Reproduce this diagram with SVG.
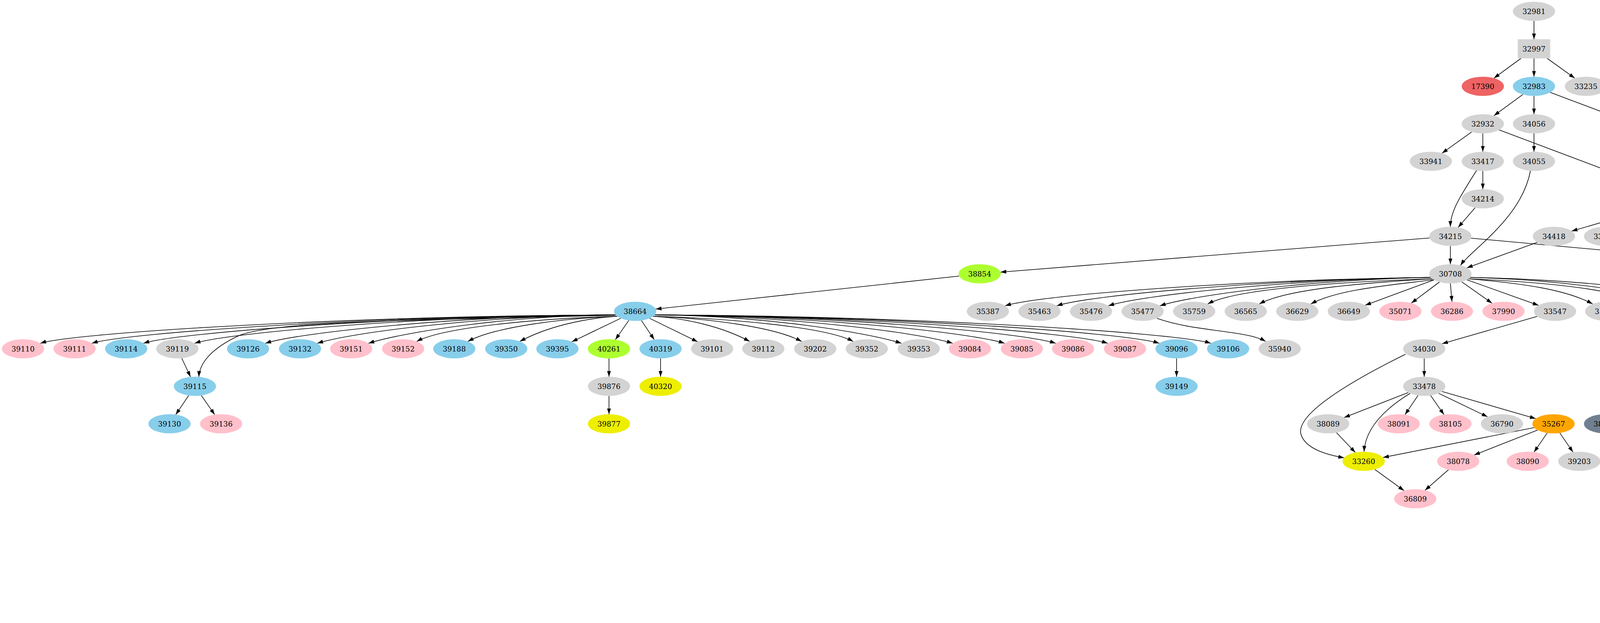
<svg xmlns="http://www.w3.org/2000/svg" width="7259" height="1595" viewBox="0 0 7259 1595">
<style>
.g{fill:#d3d3d3}.b{fill:#87ceeb}.p{fill:#ffc0cb}.l{fill:#adff2f}.y{fill:#eeee00}.r{fill:#ee6363}.s{fill:#708090}.w{fill:#a52a2a}.o{fill:#ffa500}
#edges path{fill:none;stroke:#000;stroke-width:1.6;marker-end:url(#a)}
text{font-family:"DejaVu Serif","Liberation Serif",serif;font-size:18.5px;text-anchor:middle;fill:#000}
</style>
<defs>
<marker id="a" markerUnits="userSpaceOnUse" markerWidth="16" markerHeight="12" refX="15" refY="6" orient="auto"><path d="M0,1 L15,6 L0,11 z" fill="#000"/></marker>
</defs>
<rect width="7259" height="1595" fill="#fff"/>
<g id="edges">
<path d="M3927,53.5 L3927,100.5"/>
<path d="M3893.6,149.5 L3824.4,200.2"/>
<path d="M3927,149.5 L3927,196.5"/>
<path d="M3960.9,149.5 L4031.4,200.2"/>
<path d="M3898.6,241.8 L3824.4,296.2"/>
<path d="M3927,245.5 L3927,292.5"/>
<path d="M3968.6,236.6 L4397.4,397.4"/>
<path d="M3767.4,337.8 L3691.6,392.2"/>
<path d="M3796,341.5 L3796,388.5"/>
<path d="M3837.6,332.6 L4265.4,493.4"/>
<path d="M3927,341.5 L3927,388.5"/>
<path d="M4410.4,433.8 L4335.6,488.2"/>
<path d="M4439,437.5 L4439,484.5"/>
<path d="M4467.6,433.8 L4542.4,488.2"/>
<path d="M4488.6,422.7 L4882.4,499.3"/>
<path d="M3796,437.5 L3796,484.5"/>
<path d="M3780,436.5 C3740,500 3713,540 3713,580.5"/>
<path d="M3776.3,531.8 L3732.7,582.2"/>
<path d="M3918,437 C3895,560 3765,640 3739,679.5"/>
<path d="M4261.6,522.3 L4023.4,591.7"/>
<path d="M4270.1,526.9 L4145.9,587.1"/>
<path d="M4290.7,532.4 L4256.3,581.6"/>
<path d="M4323.1,532.4 L4356.9,581.6"/>
<path d="M4343.9,526.9 L4469.1,587.1"/>
<path d="M4354.2,520.9 L4639.8,593.1"/>
<path d="M4355,521 C4520,570 4669,644.7 4738.3,682.2"/>
<path d="M3659.8,609.2 L2561.2,696.8"/>
<path d="M3713,629.5 L3713,676.5"/>
<path d="M3766,609.8 L4720,696.2"/>
<path d="M3935.9,620.3 L3755.1,685.7"/>
<path d="M4891.1,525 L4727.9,589"/>
<path d="M4916,532 C4830,590 4776,620 4773,676.5"/>
<path d="M4916.1,532.4 L4882.9,581.6"/>
<path d="M4948.4,532.3 L4983.6,581.7"/>
<path d="M4968.9,526.9 L5094.1,587.1"/>
<path d="M4980.3,520 L5304.7,594"/>
<path d="M4984.1,515.5 L5647.9,598.5"/>
<path d="M5114.9,628.4 L5081.1,677.6"/>
<path d="M5147.1,628.4 L5179.9,677.6"/>
<path d="M5373.1,627.7 L5417.9,678.3"/>
<path d="M5671.6,625.8 L5597.4,680.2"/>
<path d="M5700,629.5 L5700,676.5"/>
<path d="M5728.6,625.8 L5804.4,680.2"/>
<path d="M5742.1,620.3 L5922.9,685.7"/>
<path d="M2455.5,706.7 L1678.5,791.3"/>
<path d="M3663,710.3 C3180,716 2661.7,754.8 2573.2,782.9"/>
<path d="M3663,710.3 C3240,716 2793.7,754.8 2705.2,782.9"/>
<path d="M3663,710.3 C3299,716 2925.7,754.8 2837.2,782.9"/>
<path d="M3663,710.3 C3358,716 3057.7,754.8 2969.2,782.9"/>
<path d="M3667,713.8 C3418,722 3161,740.7 3091.7,778.2"/>
<path d="M3667,713.8 C3480,725 3293,740.7 3223.7,778.2"/>
<path d="M3672,716 C3560,730 3425,740.7 3355.7,778.2"/>
<path d="M3671.1,716.5 L3494.9,781.5"/>
<path d="M3685,722 L3613,776"/>
<path d="M3713,725.5 L3717,772.5"/>
<path d="M3742.2,721.6 L3819.8,776.4"/>
<path d="M3755.3,716.2 L3938.7,781.8"/>
<path d="M3759,713.8 C3893,725 4008,740.7 4077.3,778.2"/>
<path d="M3759,713.8 C3953,722 4141,740.7 4210.3,778.2"/>
<path d="M3763,710.3 C4013,716 4245.3,754.8 4333.8,782.9"/>
<path d="M3763,710.3 C4071,716 4376.3,754.8 4464.8,782.9"/>
<path d="M2962,815 C3060,850 3190,845 3240,874"/>
<path d="M3935.3,810.1 L3691.7,879.9"/>
<path d="M3646,917.5 L3646,964.5"/>
<path d="M3598,907 C3450,980 3320,1060 3330,1110 C3340,1150 3400,1165 3441,1172"/>
<path d="M3605.1,1005 L3440.9,1069"/>
<path d="M3630.1,1012.4 L3596.9,1061.6"/>
<path d="M3662.3,1012.4 L3696.7,1061.6"/>
<path d="M3682.9,1006.9 L3808.1,1067.1"/>
<path d="M3691.5,1002.2 L3931.5,1071.8"/>
<path d="M3610,1007 C3540,1050 3495,1100 3492,1156.5"/>
<path d="M3421.3,1107.5 L3469.7,1158.5"/>
<path d="M3927.5,1094.8 L3540.5,1171.2"/>
<path d="M3936.2,1101.1 L3773.8,1164.9"/>
<path d="M3960.9,1108.4 L3927.1,1157.6"/>
<path d="M3993.1,1108.4 L4026.9,1157.6"/>
<path d="M3519.6,1201.8 L3594.4,1256.2"/>
<path d="M3708.1,1202.7 L3647.9,1255.3"/>
<path d="M1576,806.3 C921,808 191.7,850.8 103.2,878.9"/>
<path d="M1576,806.3 C980,808 323.7,850.8 235.2,878.9"/>
<path d="M1576,806.3 C1040,808 455.7,850.8 367.2,878.9"/>
<path d="M1576,806.3 C1099,808 586.7,850.8 498.2,878.9"/>
<path d="M1576,806.3 C1180,808 767.7,850.8 679.2,878.9"/>
<path d="M1576,806.3 C1240,808 900.7,850.8 812.2,878.9"/>
<path d="M1576,806.3 C1299,808 1031.7,850.8 943.2,878.9"/>
<path d="M1580,809.8 C1388,815 1136,836.7 1066.7,874.2"/>
<path d="M1580,809.8 C1441,815 1267,836.7 1197.7,874.2"/>
<path d="M1580,809.8 C1494,815 1400,836.7 1330.7,874.2"/>
<path d="M1589.1,814.9 L1463.9,875.1"/>
<path d="M1609.7,820.4 L1575.3,869.6"/>
<path d="M1641.9,820.4 L1674.9,869.6"/>
<path d="M1662.9,814.9 L1786.1,875.1"/>
<path d="M1672,809.8 C1757,815 1850,836.7 1919.3,874.2"/>
<path d="M1672,809.8 C1810,815 1983,836.7 2052.3,874.2"/>
<path d="M1672,809.8 C1863,815 2115,836.7 2184.3,874.2"/>
<path d="M1676,806.3 C1953,808 2219.3,850.8 2307.8,878.9"/>
<path d="M1676,806.3 C2012,808 2350.3,850.8 2438.8,878.9"/>
<path d="M1676,806.3 C2072,808 2483.3,850.8 2571.8,878.9"/>
<path d="M1676,806.3 C2130,808 2614.3,850.8 2702.8,878.9"/>
<path d="M1676,806.3 C2190,808 2747.3,850.8 2835.8,878.9"/>
<path d="M1676,806.3 C2250,808 2879.3,850.8 2967.8,878.9"/>
<path d="M1676,806.3 C2309,808 3011.3,850.8 3099.8,878.9"/>
<path d="M1576,807 C1100,820 700,820 610,860 C540,893 511,930 509,964.9"/>
<path d="M465.2,917 L487.8,965"/>
<path d="M483.1,1012.4 L449.9,1061.6"/>
<path d="M515.3,1012.4 L549.7,1061.6"/>
<path d="M1559,917.5 L1559,964.5"/>
<path d="M1559,1013.5 L1559,1060.5"/>
<path d="M1691,917.5 L1691,964.5"/>
<path d="M3012,917.5 L3012,964.5"/>
<path d="M4744.6,721.8 L4670.4,776.2"/>
<path d="M4773,725.5 L4773,772.5"/>
<path d="M4801.4,721.8 L4875.6,776.2"/>
<path d="M4815.1,716.3 L4993.9,781.7"/>
<path d="M4747.9,818.7 L4687.1,871.3"/>
<path d="M4778.6,821.4 L4789.4,868.6"/>
<path d="M4730,815 C4630,870 4590,900 4591,964.5"/>
<path d="M4646.1,916.4 L4612.9,965.6"/>
<path d="M4879.3,818.8 L4819.7,871.2"/>
<path d="M4901.6,821.5 L4887.4,964.5"/>
<path d="M4921.4,820.2 L4958.6,869.8"/>
<path d="M4941.4,814.7 L5069.6,875.3"/>
<path d="M4784.5,917.1 L4763.5,964.9"/>
<path d="M4816.1,915.5 L4863.9,966.5"/>
<path d="M5398.7,717.8 L5253.3,780.2"/>
<path d="M5416.5,723.5 L5367.5,774.5"/>
<path d="M5474.2,719.2 L5592.8,778.8"/>
<path d="M5449.1,725 L5515.9,965"/>
<path d="M5436,725.5 C5430,900 5250,990 5030,1020 C4930,1035 4860,1050 4806,1067.3"/>
<path d="M5488,711 C5560,745 5700,745 5800,745 C6400,750 6900,790 7100,826 C7190,850 7203,900 7203,960 L7203,1040 C7203,1100 7150,1130 6950,1155 C6750,1170 6600,1176 6541,1177.5"/>
<path d="M5488,709 C5560,742 5700,742 5800,742 C6300,746 6700,742 6991,776 C7100,786 7200,800 7230,850 C7252,890 7252,950 7252,1000 L7252,1199 C7252,1240 7200,1290 7027,1323 C6900,1350 6700,1365 6571,1370"/>
<path d="M5220.4,821.4 L5232.6,868.6"/>
<path d="M5633,821.5 L5641,868.5"/>
<path d="M5618.7,914.4 L5553.3,967.6"/>
<path d="M5648.3,917.5 L5654.7,964.5"/>
<path d="M5675.7,913.2 L5760.3,968.8"/>
<path d="M5477,998.3 C4818,1012 4241.7,1042.8 4153.2,1070.9"/>
<path d="M5477,998.3 C4884,1012 4373.7,1042.8 4285.2,1070.9"/>
<path d="M5477,998.3 C4950,1012 4505.7,1042.8 4417.2,1070.9"/>
<path d="M5477,998.3 C5016,1012 4637.7,1042.8 4549.2,1070.9"/>
<path d="M5477,998.3 C5082,1012 4769.7,1042.8 4681.2,1070.9"/>
<path d="M5477,998.3 C5214,1012 5033.7,1042.8 4945.2,1070.9"/>
<path d="M5481,1001.8 C5349,1010 5187,1028.7 5117.7,1066.2"/>
<path d="M5484.9,1004.3 L5306.1,1069.7"/>
<path d="M5498.6,1009.8 L5424.4,1064.2"/>
<path d="M5527,1013.5 L5528,1060.5"/>
<path d="M5555.6,1009.8 L5631.4,1064.2"/>
<path d="M5569.1,1004.3 L5749.9,1069.7"/>
<path d="M5573,1001.8 C5685,1010 5819,1028.7 5888.3,1066.2"/>
<path d="M5573,1001.8 C5739,1010 5952,1028.7 6021.3,1066.2"/>
<path d="M5577,998.3 C5857,1012 6055.3,1042.8 6143.8,1070.9"/>
<path d="M5577,998.3 C5924,1012 6187.3,1042.8 6275.8,1070.9"/>
<path d="M5577,998.3 C5990,1012 6319.3,1042.8 6407.8,1070.9"/>
<path d="M5577,998.3 C6055,1012 6450.3,1042.8 6538.8,1070.9"/>
<path d="M5577,998.3 C6121,1012 6583.3,1042.8 6671.8,1070.9"/>
<path d="M5577,998.3 C6187,1012 6715.3,1042.8 6803.8,1070.9"/>
<path d="M5577,998.3 C6253,1012 6847.3,1042.8 6935.8,1070.9"/>
<path d="M5577,998.3 C6319,1012 6979.3,1042.8 7067.8,1070.9"/>
<path d="M5480,1002 C5400,1015 5290,1010 5240,1030 C5190,1060 5175,1110 5173,1156.5"/>
<path d="M5478,1000 C5300,1020 5120,1010 5060,1040 C4990,1080 4955,1150 4951,1252.5"/>
<path d="M5104.1,1107.5 L5151.9,1158.5"/>
<path d="M5775.4,1108.4 L5740.6,1157.6"/>
<path d="M5807.9,1108.4 L5841.1,1157.6"/>
<path d="M5843.7,1092.1 L6435.3,1173.9"/>
<path d="M5836,1099.2 L6341,1262.8"/>
<path d="M7112,1109.5 L7112,1156.5"/>
<path d="M6463.5,1203.1 L6408.5,1254.9"/>
<path d="M6490.8,1205.4 L6513.2,1348.6"/>
<path d="M6356.6,1297.8 L6282.4,1352.2"/>
<path d="M6385,1301.5 L6385,1348.5"/>
<path d="M6413.6,1297.8 L6488.6,1352.2"/>
<path d="M5133.7,1197.8 L4989.3,1260.2"/>
<path d="M5151.9,1203.5 L5104.1,1254.5"/>
<path d="M5183.3,1205.1 L5203.7,1252.9"/>
<path d="M5207.3,1199.9 L5312.7,1258.1"/>
<path d="M5224,1191 C5350,1230 5410,1270 5415,1348.5"/>
<path d="M4903,1289.1 L4624,1360.9"/>
<path d="M4909.4,1293.2 L4749.6,1356.8"/>
<path d="M4925.5,1298.8 L4866.5,1351.2"/>
<path d="M4955.9,1301.4 L4967.1,1348.6"/>
<path d="M4981.9,1296.8 L5073.1,1353.2"/>
<path d="M4993.5,1291.5 L5193.5,1358.5"/>
<path d="M4999.1,1287.2 L5364.9,1362.8"/>
<path d="M4709,1397.5 L4709,1444.5"/>
<path d="M4709,1493.5 L4709,1540.5"/>
<path d="M4842,1397.5 L4842,1444.5"/>
<path d="M4973,1397.5 L4973,1444.5"/>
</g>
<g id="nodes">
<g id="n32981"><ellipse class="g" cx="3927" cy="29" rx="54" ry="24.5"/><text x="3927" y="35.5">32981</text></g>
<g id="n32997"><rect class="g" x="3885.5" y="100.5" width="83" height="49"/><text x="3927" y="131.5">32997</text></g>
<g id="n17390"><ellipse class="r" cx="3796" cy="221" rx="54" ry="24.5"/><text x="3796" y="227.5">17390</text></g>
<g id="n32983"><ellipse class="b" cx="3927" cy="221" rx="54" ry="24.5"/><text x="3927" y="227.5">32983</text></g>
<g id="n33235"><ellipse class="g" cx="4060" cy="221" rx="54" ry="24.5"/><text x="4060" y="227.5">33235</text></g>
<g id="n32932"><ellipse class="g" cx="3796" cy="317" rx="54" ry="24.5"/><text x="3796" y="323.5">32932</text></g>
<g id="n34056"><ellipse class="g" cx="3927" cy="317" rx="54" ry="24.5"/><text x="3927" y="323.5">34056</text></g>
<g id="n33941"><ellipse class="g" cx="3663" cy="413" rx="54" ry="24.5"/><text x="3663" y="419.5">33941</text></g>
<g id="n33417"><ellipse class="g" cx="3796" cy="413" rx="54" ry="24.5"/><text x="3796" y="419.5">33417</text></g>
<g id="n34055"><ellipse class="g" cx="3927" cy="413" rx="54" ry="24.5"/><text x="3927" y="419.5">34055</text></g>
<g id="n32991"><ellipse class="g" cx="4439" cy="413" rx="54" ry="24.5"/><text x="4439" y="419.5">32991</text></g>
<g id="n34214"><ellipse class="g" cx="3796" cy="509" rx="54" ry="24.5"/><text x="3796" y="515.5">34214</text></g>
<g id="n33169"><ellipse class="g" cx="4307" cy="509" rx="54" ry="24.5"/><text x="4307" y="515.5">33169</text></g>
<g id="n32807"><ellipse class="g" cx="4439" cy="509" rx="54" ry="24.5"/><text x="4439" y="515.5">32807</text></g>
<g id="n33648"><ellipse class="g" cx="4571" cy="509" rx="54" ry="24.5"/><text x="4571" y="515.5">33648</text></g>
<g id="n33066"><ellipse class="g" cx="4932" cy="509" rx="54" ry="24.5"/><text x="4932" y="515.5">33066</text></g>
<g id="n34215"><ellipse class="g" cx="3713" cy="605" rx="54" ry="24.5"/><text x="3713" y="611.5">34215</text></g>
<g id="n34418"><ellipse class="g" cx="3978" cy="605" rx="54" ry="24.5"/><text x="3978" y="611.5">34418</text></g>
<g id="n33606"><ellipse class="g" cx="4109" cy="605" rx="54" ry="24.5"/><text x="4109" y="611.5">33606</text></g>
<g id="n34691"><ellipse class="g" cx="4240" cy="605" rx="54" ry="24.5"/><text x="4240" y="611.5">34691</text></g>
<g id="n34735"><ellipse class="g" cx="4373" cy="605" rx="54" ry="24.5"/><text x="4373" y="611.5">34735</text></g>
<g id="n34417"><ellipse class="w" cx="4506" cy="605" rx="54" ry="24.5"/><text x="4506" y="611.5">34417</text></g>
<g id="n32607"><ellipse class="g" cx="4687" cy="605" rx="54" ry="24.5"/><text x="4687" y="611.5">32607</text></g>
<g id="n33529"><ellipse class="g" cx="4867" cy="605" rx="54" ry="24.5"/><text x="4867" y="611.5">33529</text></g>
<g id="n33705"><ellipse class="g" cx="5000" cy="605" rx="54" ry="24.5"/><text x="5000" y="611.5">33705</text></g>
<g id="n33973"><ellipse class="g" cx="5131" cy="605" rx="54" ry="24.5"/><text x="5131" y="611.5">33973</text></g>
<g id="n37395"><ellipse class="b" cx="5353" cy="605" rx="54" ry="24.5"/><text x="5353" y="611.5">37395</text></g>
<g id="n33483"><ellipse class="g" cx="5700" cy="605" rx="54" ry="24.5"/><text x="5700" y="611.5">33483</text></g>
<g id="n38854"><ellipse class="l" cx="2508" cy="701" rx="54" ry="24.5"/><text x="2508" y="707.5">38854</text></g>
<g id="n30708"><ellipse class="g" cx="3713" cy="701" rx="54" ry="24.5"/><text x="3713" y="707.5">30708</text></g>
<g id="n35919"><ellipse class="g" cx="4773" cy="701" rx="54" ry="24.5"/><text x="4773" y="707.5">35919</text></g>
<g id="n34201"><ellipse class="g" cx="5065" cy="701" rx="54" ry="24.5"/><text x="5065" y="707.5">34201</text></g>
<g id="n34107"><ellipse class="g" cx="5196" cy="701" rx="54" ry="24.5"/><text x="5196" y="707.5">34107</text></g>
<g id="n33484"><ellipse class="b" cx="5438" cy="701" rx="54" ry="24.5"/><text x="5438" y="707.5">33484</text></g>
<g id="n33490"><ellipse class="g" cx="5569" cy="701" rx="54" ry="24.5"/><text x="5569" y="707.5">33490</text></g>
<g id="n33491"><ellipse class="g" cx="5700" cy="701" rx="54" ry="24.5"/><text x="5700" y="707.5">33491</text></g>
<g id="n33507"><ellipse class="s" cx="5833" cy="701" rx="54" ry="24.5"/><text x="5833" y="707.5">33507</text></g>
<g id="n33416"><ellipse class="g" cx="5965" cy="701" rx="54" ry="24.5"/><text x="5965" y="707.5">33416</text></g>
<g id="n38664"><ellipse class="b" cx="1626" cy="797" rx="54" ry="24.5"/><text x="1626" y="803.5">38664</text></g>
<g id="n35387"><ellipse class="g" cx="2529" cy="797" rx="54" ry="24.5"/><text x="2529" y="803.5">35387</text></g>
<g id="n35463"><ellipse class="g" cx="2661" cy="797" rx="54" ry="24.5"/><text x="2661" y="803.5">35463</text></g>
<g id="n35476"><ellipse class="g" cx="2793" cy="797" rx="54" ry="24.5"/><text x="2793" y="803.5">35476</text></g>
<g id="n35477"><ellipse class="g" cx="2925" cy="797" rx="54" ry="24.5"/><text x="2925" y="803.5">35477</text></g>
<g id="n35759"><ellipse class="g" cx="3057" cy="797" rx="54" ry="24.5"/><text x="3057" y="803.5">35759</text></g>
<g id="n36565"><ellipse class="g" cx="3189" cy="797" rx="54" ry="24.5"/><text x="3189" y="803.5">36565</text></g>
<g id="n36629"><ellipse class="g" cx="3321" cy="797" rx="54" ry="24.5"/><text x="3321" y="803.5">36629</text></g>
<g id="n36649"><ellipse class="g" cx="3453" cy="797" rx="54" ry="24.5"/><text x="3453" y="803.5">36649</text></g>
<g id="n35071"><ellipse class="p" cx="3585" cy="797" rx="54" ry="24.5"/><text x="3585" y="803.5">35071</text></g>
<g id="n36286"><ellipse class="p" cx="3717" cy="797" rx="54" ry="24.5"/><text x="3717" y="803.5">36286</text></g>
<g id="n37990"><ellipse class="p" cx="3849" cy="797" rx="54" ry="24.5"/><text x="3849" y="803.5">37990</text></g>
<g id="n33547"><ellipse class="g" cx="3981" cy="797" rx="54" ry="24.5"/><text x="3981" y="803.5">33547</text></g>
<g id="n35201"><ellipse class="g" cx="4112" cy="797" rx="54" ry="24.5"/><text x="4112" y="803.5">35201</text></g>
<g id="n35230"><ellipse class="g" cx="4245" cy="797" rx="54" ry="24.5"/><text x="4245" y="803.5">35230</text></g>
<g id="n35376"><ellipse class="g" cx="4378" cy="797" rx="54" ry="24.5"/><text x="4378" y="803.5">35376</text></g>
<g id="n35377"><ellipse class="g" cx="4509" cy="797" rx="54" ry="24.5"/><text x="4509" y="803.5">35377</text></g>
<g id="n35956"><ellipse class="p" cx="4642" cy="797" rx="54" ry="24.5"/><text x="4642" y="803.5">35956</text></g>
<g id="n37419"><ellipse class="g" cx="4773" cy="797" rx="54" ry="24.5"/><text x="4773" y="803.5">37419</text></g>
<g id="n31791"><ellipse class="g" cx="4904" cy="797" rx="54" ry="24.5"/><text x="4904" y="803.5">31791</text></g>
<g id="n38779"><ellipse class="g" cx="5036" cy="797" rx="54" ry="24.5"/><text x="5036" y="803.5">38779</text></g>
<g id="n38116"><ellipse class="b" cx="5214" cy="797" rx="54" ry="24.5"/><text x="5214" y="803.5">38116</text></g>
<g id="n38242"><ellipse class="p" cx="5346" cy="797" rx="54" ry="24.5"/><text x="5346" y="803.5">38242</text></g>
<g id="n38304"><ellipse class="g" cx="5629" cy="797" rx="54" ry="24.5"/><text x="5629" y="803.5">38304</text></g>
<g id="n39110"><ellipse class="p" cx="59" cy="893" rx="54" ry="24.5"/><text x="59" y="899.5">39110</text></g>
<g id="n39111"><ellipse class="p" cx="191" cy="893" rx="54" ry="24.5"/><text x="191" y="899.5">39111</text></g>
<g id="n39114"><ellipse class="b" cx="323" cy="893" rx="54" ry="24.5"/><text x="323" y="899.5">39114</text></g>
<g id="n39119"><ellipse class="g" cx="454" cy="893" rx="54" ry="24.5"/><text x="454" y="899.5">39119</text></g>
<g id="n39126"><ellipse class="b" cx="635" cy="893" rx="54" ry="24.5"/><text x="635" y="899.5">39126</text></g>
<g id="n39132"><ellipse class="b" cx="768" cy="893" rx="54" ry="24.5"/><text x="768" y="899.5">39132</text></g>
<g id="n39151"><ellipse class="p" cx="899" cy="893" rx="54" ry="24.5"/><text x="899" y="899.5">39151</text></g>
<g id="n39152"><ellipse class="p" cx="1032" cy="893" rx="54" ry="24.5"/><text x="1032" y="899.5">39152</text></g>
<g id="n39188"><ellipse class="b" cx="1163" cy="893" rx="54" ry="24.5"/><text x="1163" y="899.5">39188</text></g>
<g id="n39350"><ellipse class="b" cx="1296" cy="893" rx="54" ry="24.5"/><text x="1296" y="899.5">39350</text></g>
<g id="n39395"><ellipse class="b" cx="1427" cy="893" rx="54" ry="24.5"/><text x="1427" y="899.5">39395</text></g>
<g id="n40261"><ellipse class="l" cx="1559" cy="893" rx="54" ry="24.5"/><text x="1559" y="899.5">40261</text></g>
<g id="n40319"><ellipse class="b" cx="1691" cy="893" rx="54" ry="24.5"/><text x="1691" y="899.5">40319</text></g>
<g id="n39101"><ellipse class="g" cx="1823" cy="893" rx="54" ry="24.5"/><text x="1823" y="899.5">39101</text></g>
<g id="n39112"><ellipse class="g" cx="1954" cy="893" rx="54" ry="24.5"/><text x="1954" y="899.5">39112</text></g>
<g id="n39202"><ellipse class="g" cx="2087" cy="893" rx="54" ry="24.5"/><text x="2087" y="899.5">39202</text></g>
<g id="n39352"><ellipse class="g" cx="2219" cy="893" rx="54" ry="24.5"/><text x="2219" y="899.5">39352</text></g>
<g id="n39353"><ellipse class="g" cx="2352" cy="893" rx="54" ry="24.5"/><text x="2352" y="899.5">39353</text></g>
<g id="n39084"><ellipse class="p" cx="2483" cy="893" rx="54" ry="24.5"/><text x="2483" y="899.5">39084</text></g>
<g id="n39085"><ellipse class="p" cx="2616" cy="893" rx="54" ry="24.5"/><text x="2616" y="899.5">39085</text></g>
<g id="n39086"><ellipse class="p" cx="2747" cy="893" rx="54" ry="24.5"/><text x="2747" y="899.5">39086</text></g>
<g id="n39087"><ellipse class="p" cx="2880" cy="893" rx="54" ry="24.5"/><text x="2880" y="899.5">39087</text></g>
<g id="n39096"><ellipse class="b" cx="3012" cy="893" rx="54" ry="24.5"/><text x="3012" y="899.5">39096</text></g>
<g id="n39106"><ellipse class="b" cx="3144" cy="893" rx="54" ry="24.5"/><text x="3144" y="899.5">39106</text></g>
<g id="n35940"><ellipse class="g" cx="3276" cy="893" rx="54" ry="24.5"/><text x="3276" y="899.5">35940</text></g>
<g id="n34030"><ellipse class="g" cx="3646" cy="893" rx="54" ry="24.5"/><text x="3646" y="899.5">34030</text></g>
<g id="n37510"><ellipse class="g" cx="4662" cy="893" rx="54" ry="24.5"/><text x="4662" y="899.5">37510</text></g>
<g id="n36372"><ellipse class="r" cx="4795" cy="893" rx="54" ry="24.5"/><text x="4795" y="899.5">36372</text></g>
<g id="n36975"><ellipse class="s" cx="4976" cy="893" rx="54" ry="24.5"/><text x="4976" y="899.5">36975</text></g>
<g id="n36786"><ellipse class="g" cx="5107" cy="893" rx="54" ry="24.5"/><text x="5107" y="899.5">36786</text></g>
<g id="n39288"><ellipse class="g" cx="5239" cy="893" rx="54" ry="24.5"/><text x="5239" y="899.5">39288</text></g>
<g id="n37238"><ellipse class="b" cx="5645" cy="893" rx="54" ry="24.5"/><text x="5645" y="899.5">37238</text></g>
<g id="n39115"><ellipse class="b" cx="499" cy="989" rx="54" ry="24.5"/><text x="499" y="995.5">39115</text></g>
<g id="n39876"><ellipse class="g" cx="1559" cy="989" rx="54" ry="24.5"/><text x="1559" y="995.5">39876</text></g>
<g id="n40320"><ellipse class="y" cx="1691" cy="989" rx="54" ry="24.5"/><text x="1691" y="995.5">40320</text></g>
<g id="n39149"><ellipse class="b" cx="3012" cy="989" rx="54" ry="24.5"/><text x="3012" y="995.5">39149</text></g>
<g id="n33478"><ellipse class="g" cx="3646" cy="989" rx="54" ry="24.5"/><text x="3646" y="995.5">33478</text></g>
<g id="n37513"><ellipse class="b" cx="4597" cy="989" rx="54" ry="24.5"/><text x="4597" y="995.5">37513</text></g>
<g id="n37258"><ellipse class="s" cx="4753" cy="989" rx="54" ry="24.5"/><text x="4753" y="995.5">37258</text></g>
<g id="n36884"><ellipse class="s" cx="4885" cy="989" rx="54" ry="24.5"/><text x="4885" y="995.5">36884</text></g>
<g id="n36640"><ellipse class="g" cx="5527" cy="989" rx="54" ry="24.5"/><text x="5527" y="995.5">36640</text></g>
<g id="n38935"><ellipse class="g" cx="5658" cy="989" rx="54" ry="24.5"/><text x="5658" y="995.5">38935</text></g>
<g id="n38331"><ellipse class="r" cx="5791" cy="989" rx="54" ry="24.5"/><text x="5791" y="995.5">38331</text></g>
<g id="n39130"><ellipse class="b" cx="434" cy="1085" rx="54" ry="24.5"/><text x="434" y="1091.5">39130</text></g>
<g id="n39136"><ellipse class="p" cx="566" cy="1085" rx="54" ry="24.5"/><text x="566" y="1091.5">39136</text></g>
<g id="n39877"><ellipse class="y" cx="1559" cy="1085" rx="54" ry="24.5"/><text x="1559" y="1091.5">39877</text></g>
<g id="n38089"><ellipse class="g" cx="3400" cy="1085" rx="54" ry="24.5"/><text x="3400" y="1091.5">38089</text></g>
<g id="n38091"><ellipse class="p" cx="3581" cy="1085" rx="54" ry="24.5"/><text x="3581" y="1091.5">38091</text></g>
<g id="n38105"><ellipse class="p" cx="3713" cy="1085" rx="54" ry="24.5"/><text x="3713" y="1091.5">38105</text></g>
<g id="n36790"><ellipse class="g" cx="3845" cy="1085" rx="54" ry="24.5"/><text x="3845" y="1091.5">36790</text></g>
<g id="n35267"><ellipse class="o" cx="3977" cy="1085" rx="54" ry="24.5"/><text x="3977" y="1091.5">35267</text></g>
<g id="n38296"><ellipse class="s" cx="4109" cy="1085" rx="54" ry="24.5"/><text x="4109" y="1091.5">38296</text></g>
<g id="n39169"><ellipse class="l" cx="4241" cy="1085" rx="54" ry="24.5"/><text x="4241" y="1091.5">39169</text></g>
<g id="n39775"><ellipse class="l" cx="4373" cy="1085" rx="54" ry="24.5"/><text x="4373" y="1091.5">39775</text></g>
<g id="n39814"><ellipse class="l" cx="4505" cy="1085" rx="54" ry="24.5"/><text x="4505" y="1091.5">39814</text></g>
<g id="n40314"><ellipse class="r" cx="4637" cy="1085" rx="54" ry="24.5"/><text x="4637" y="1091.5">40314</text></g>
<g id="n13965"><ellipse class="g" cx="4769" cy="1085" rx="54" ry="24.5"/><text x="4769" y="1091.5">13965</text></g>
<g id="n38114"><ellipse class="g" cx="4901" cy="1085" rx="54" ry="24.5"/><text x="4901" y="1091.5">38114</text></g>
<g id="n38596"><ellipse class="l" cx="5083" cy="1085" rx="54" ry="24.5"/><text x="5083" y="1091.5">38596</text></g>
<g id="n38456"><ellipse class="g" cx="5264" cy="1085" rx="54" ry="24.5"/><text x="5264" y="1091.5">38456</text></g>
<g id="n38461"><ellipse class="g" cx="5396" cy="1085" rx="54" ry="24.5"/><text x="5396" y="1091.5">38461</text></g>
<g id="n38484"><ellipse class="g" cx="5528" cy="1085" rx="54" ry="24.5"/><text x="5528" y="1091.5">38484</text></g>
<g id="n38543"><ellipse class="g" cx="5660" cy="1085" rx="54" ry="24.5"/><text x="5660" y="1091.5">38543</text></g>
<g id="n38436"><ellipse class="g" cx="5792" cy="1085" rx="54" ry="24.5"/><text x="5792" y="1091.5">38436</text></g>
<g id="n30113"><ellipse class="s" cx="5923" cy="1085" rx="54" ry="24.5"/><text x="5923" y="1091.5">30113</text></g>
<g id="n33729"><ellipse class="b" cx="6056" cy="1085" rx="54" ry="24.5"/><text x="6056" y="1091.5">33729</text></g>
<g id="n38185"><ellipse class="p" cx="6188" cy="1085" rx="54" ry="24.5"/><text x="6188" y="1091.5">38185</text></g>
<g id="n38259"><ellipse class="p" cx="6320" cy="1085" rx="54" ry="24.5"/><text x="6320" y="1091.5">38259</text></g>
<g id="n38310"><ellipse class="s" cx="6452" cy="1085" rx="54" ry="24.5"/><text x="6452" y="1091.5">38310</text></g>
<g id="n38311"><ellipse class="s" cx="6583" cy="1085" rx="54" ry="24.5"/><text x="6583" y="1091.5">38311</text></g>
<g id="n38388"><ellipse class="s" cx="6716" cy="1085" rx="54" ry="24.5"/><text x="6716" y="1091.5">38388</text></g>
<g id="n38958"><ellipse class="l" cx="6848" cy="1085" rx="54" ry="24.5"/><text x="6848" y="1091.5">38958</text></g>
<g id="n39080"><ellipse class="l" cx="6980" cy="1085" rx="54" ry="24.5"/><text x="6980" y="1091.5">39080</text></g>
<g id="n38295"><ellipse class="w" cx="7112" cy="1085" rx="54" ry="24.5"/><text x="7112" y="1091.5">38295</text></g>
<g id="n33260"><ellipse class="y" cx="3491" cy="1181" rx="54" ry="24.5"/><text x="3491" y="1187.5">33260</text></g>
<g id="n38078"><ellipse class="p" cx="3733" cy="1181" rx="54" ry="24.5"/><text x="3733" y="1187.5">38078</text></g>
<g id="n38090"><ellipse class="p" cx="3911" cy="1181" rx="54" ry="24.5"/><text x="3911" y="1187.5">38090</text></g>
<g id="n39203"><ellipse class="g" cx="4043" cy="1181" rx="54" ry="24.5"/><text x="4043" y="1187.5">39203</text></g>
<g id="n38255"><ellipse class="b" cx="5173" cy="1181" rx="54" ry="24.5"/><text x="5173" y="1187.5">38255</text></g>
<g id="n38906"><ellipse class="o" cx="5724" cy="1181" rx="54" ry="24.5"/><text x="5724" y="1187.5">38906</text></g>
<g id="n38595"><ellipse class="l" cx="5857" cy="1181" rx="54" ry="24.5"/><text x="5857" y="1187.5">38595</text></g>
<g id="n38482"><ellipse class="g" cx="6487" cy="1181" rx="54" ry="24.5"/><text x="6487" y="1187.5">38482</text></g>
<g id="n38300"><ellipse class="p" cx="7112" cy="1181" rx="54" ry="24.5"/><text x="7112" y="1187.5">38300</text></g>
<g id="n36809"><ellipse class="p" cx="3623" cy="1277" rx="54" ry="24.5"/><text x="3623" y="1283.5">36809</text></g>
<g id="n26553"><ellipse class="b" cx="4950" cy="1277" rx="54" ry="24.5"/><text x="4950" y="1283.5">26553</text></g>
<g id="n38440"><ellipse class="b" cx="5083" cy="1277" rx="54" ry="24.5"/><text x="5083" y="1283.5">38440</text></g>
<g id="n39779"><ellipse class="b" cx="5214" cy="1277" rx="54" ry="24.5"/><text x="5214" y="1283.5">39779</text></g>
<g id="n40161"><ellipse class="g" cx="5347" cy="1277" rx="54" ry="24.5"/><text x="5347" y="1283.5">40161</text></g>
<g id="n38485"><ellipse class="g" cx="6385" cy="1277" rx="54" ry="24.5"/><text x="6385" y="1283.5">38485</text></g>
<g id="n38472"><ellipse class="g" cx="4577" cy="1373" rx="54" ry="24.5"/><text x="4577" y="1379.5">38472</text></g>
<g id="n39081"><ellipse class="g" cx="4709" cy="1373" rx="54" ry="24.5"/><text x="4709" y="1379.5">39081</text></g>
<g id="n30221"><ellipse class="r" cx="4842" cy="1373" rx="54" ry="24.5"/><text x="4842" y="1379.5">30221</text></g>
<g id="n38984"><ellipse class="b" cx="4973" cy="1373" rx="54" ry="24.5"/><text x="4973" y="1379.5">38984</text></g>
<g id="n39083"><ellipse class="b" cx="5105" cy="1373" rx="54" ry="24.5"/><text x="5105" y="1379.5">39083</text></g>
<g id="n39513"><ellipse class="l" cx="5237" cy="1373" rx="54" ry="24.5"/><text x="5237" y="1379.5">39513</text></g>
<g id="n40522"><ellipse class="o" cx="5414" cy="1373" rx="54" ry="24.5"/><text x="5414" y="1379.5">40522</text></g>
<g id="n38724"><ellipse class="l" cx="6254" cy="1373" rx="54" ry="24.5"/><text x="6254" y="1379.5">38724</text></g>
<g id="n38632"><ellipse class="g" cx="6385" cy="1373" rx="54" ry="24.5"/><text x="6385" y="1379.5">38632</text></g>
<g id="n38433"><ellipse class="s" cx="6517" cy="1373" rx="54" ry="24.5"/><text x="6517" y="1379.5">38433</text></g>
<g id="n39289"><ellipse class="g" cx="4709" cy="1469" rx="54" ry="24.5"/><text x="4709" y="1475.5">39289</text></g>
<g id="n38103"><ellipse class="p" cx="4842" cy="1469" rx="54" ry="24.5"/><text x="4842" y="1475.5">38103</text></g>
<g id="n39015"><ellipse class="b" cx="4973" cy="1469" rx="54" ry="24.5"/><text x="4973" y="1475.5">39015</text></g>
<g id="n39290"><ellipse class="p" cx="4709" cy="1565" rx="54" ry="24.5"/><text x="4709" y="1571.5">39290</text></g>
</g>
</svg>
